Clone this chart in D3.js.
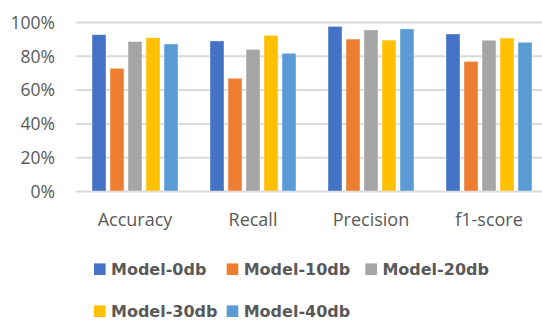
<!DOCTYPE html>
<html>
<head>
<meta charset="utf-8">
<script src="https://cdn.jsdelivr.net/npm/d3@7"></script>
<style>
  html, body { margin: 0; padding: 0; background: #fff; }
  svg { display: block; }
</style>
</head>
<body>
<svg id="chart" width="542" height="320"></svg>
<script>
const categories = ["Accuracy", "Recall", "Precision", "f1-score"];
const seriesNames = ["Model-0db", "Model-10db", "Model-20db", "Model-30db", "Model-40db"];
const model0db  = [0.925, 0.888, 0.974, 0.929];
const model10db = [0.726, 0.667, 0.899, 0.767];
const model20db = [0.884, 0.838, 0.953, 0.892];
const model30db = [0.907, 0.921, 0.893, 0.905];
const model40db = [0.870, 0.815, 0.959, 0.880];
const yTicks = [0, 0.2, 0.4, 0.6, 0.8, 1.0];

(function () {
const seriesValues = [model0db, model10db, model20db, model30db, model40db];
const colors = ["#4472C4", "#ED7D31", "#A5A5A5", "#FFC000", "#5B9BD5"];

const svg = d3.select("#chart");
svg.append("rect").attr("width", 542).attr("height", 320).attr("fill", "#fff");

const plotLeft = 76, plotRight = 548, plotTop = 22, plotBottom = 191;

const x0 = d3.scaleBand().domain(categories).range([plotLeft, plotRight]).padding(0);
const groupWidth = 86;
const x1 = d3.scaleBand().domain(seriesNames).range([0, groupWidth]).paddingInner(4 / 18).paddingOuter(0);
const y = d3.scaleLinear().domain([0, 1]).range([plotBottom, plotTop]);

// Y axis with gridlines
const yAxis = d3.axisLeft(y)
  .tickValues(yTicks)
  .tickFormat(d3.format(".0%"))
  .tickSizeInner(-(542 - plotLeft))
  .tickSizeOuter(0)
  .tickPadding(21);

const gy = svg.append("g").attr("transform", `translate(${plotLeft},0)`).call(yAxis);
gy.select(".domain").remove();
gy.selectAll(".tick line").attr("stroke", "#D9D9D9").attr("stroke-width", 2);
gy.selectAll(".tick text")
  .attr("fill", "#595959")
  .attr("font-family", "'Open Sans', sans-serif")
  .attr("font-size", 17.5)
  .attr("dy", "0.36em");

// Bars
const groups = svg.append("g").selectAll("g")
  .data(categories)
  .join("g")
  .attr("transform", d => `translate(${x0(d) + (x0.bandwidth() - groupWidth) / 2},0)`);

groups.selectAll("rect")
  .data((c, ci) => seriesNames.map((s, si) => ({ s, si, v: seriesValues[si][ci] })))
  .join("rect")
  .attr("x", d => x1(d.s))
  .attr("y", d => y(d.v))
  .attr("width", x1.bandwidth())
  .attr("height", d => y(0) - y(d.v))
  .attr("fill", d => colors[d.si])
  .attr("stroke", "rgba(255,255,255,0.5)")
  .attr("stroke-width", 0.8);

// X axis labels
const xAxis = d3.axisBottom(x0).tickSize(0).tickPadding(0);
const gx = svg.append("g").attr("transform", `translate(0,${plotBottom})`).call(xAxis);
gx.select(".domain").remove();
gx.selectAll(".tick text")
  .attr("fill", "#595959")
  .attr("font-family", "'Open Sans', sans-serif")
  .attr("font-size", 18)
  .attr("dy", null)
  .attr("y", 35);

// Legend
const legendCols = [94, 226.7, 365.4];
const legendRows = [269.2, 311.2];
const legend = svg.append("g")
  .attr("font-family", "'DejaVu Sans', sans-serif")
  .attr("font-weight", "bold")
  .attr("font-size", 16)
  .attr("fill", "#595959");

seriesNames.forEach((name, i) => {
  const col = i % 3, row = Math.floor(i / 3);
  const g = legend.append("g").attr("transform", `translate(${legendCols[col]},${legendRows[row]})`);
  g.append("rect").attr("x", 0).attr("y", -5.8).attr("width", 11.6).attr("height", 11.6).attr("fill", colors[i]);
  g.append("text").attr("x", 17).attr("y", 0).attr("dy", "0.36em").text(name);
});
})();
</script>
</body>
</html>
